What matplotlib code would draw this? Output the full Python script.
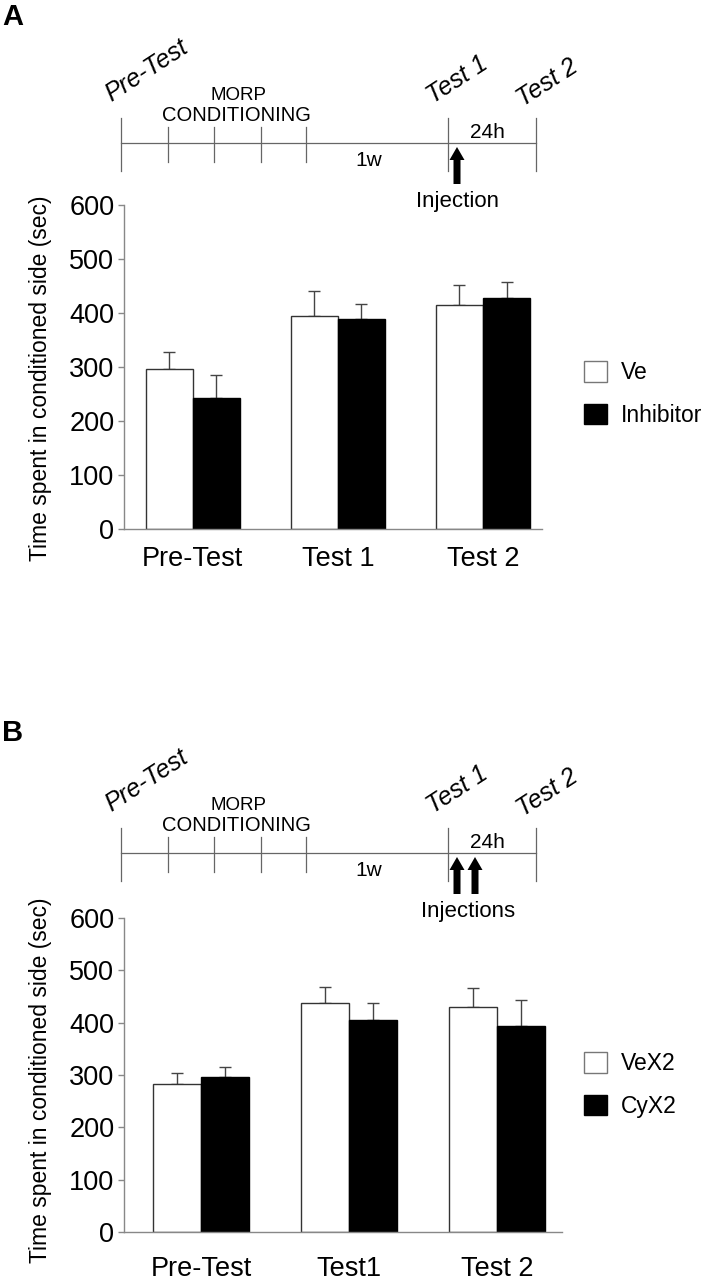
import numpy as np
import matplotlib.pyplot as plt
from matplotlib.patches import Patch

plt.rcParams['font.family'] = ['Liberation Sans', 'DejaVu Sans']

groups_a = ["Pre-Test", "Test 1", "Test 2"]
groups_b = ["Pre-Test", "Test1", "Test 2"]

# panel A
ve = [296, 395, 414]
ve_err = [32, 46, 37]
inh = [243, 389, 427]
inh_err = [42, 28, 30]
# panel B
vex2 = [282, 438, 430]
vex2_err = [22, 30, 37]
cyx2 = [296, 406, 394]
cyx2_err = [19, 32, 50]

yticks = [0, 100, 200, 300, 400, 500, 600]

W, H = 702, 1280
fig = plt.figure(figsize=(W / 100, H / 100), dpi=100)

def px_axes(l, t, r, b):
    return fig.add_axes([l / W, 1 - b / H, (r - l) / W, (b - t) / H])

# overlay in pixel units for the timeline sketches
ov = fig.add_axes([0, 0, 1, 1])
ov.set_xlim(0, W)
ov.set_ylim(H, 0)
ov.axis("off")

GRAY = "#666666"

def timeline(dy, n_arrows, inj_text):
    ov.plot([121, 536], [143 + dy, 143 + dy], color=GRAY, lw=0.9)
    for x in [121, 448, 536]:
        ov.plot([x, x], [118 + dy, 171 + dy], color=GRAY, lw=0.9)
    for x in [168, 214, 261, 306]:
        ov.plot([x, x], [127 + dy, 162 + dy], color=GRAY, lw=0.9)
    ov.text(238, 100 + dy, "MORP", ha="center", va="baseline", fontsize=13.5)
    ov.text(236, 121 + dy, "CONDITIONING", ha="center", va="baseline", fontsize=14.5)
    ov.text(369, 160 + dy, "1w", ha="center", va="center", fontsize=15)
    ov.text(487, 132 + dy, "24h", ha="center", va="center", fontsize=15)
    for x0, y0, s in [(111, 102, "Pre-Test"), (433, 104, "Test 1"), (523, 107, "Test 2")]:
        ov.text(x0, y0 + dy, s, rotation=33, rotation_mode="anchor", ha="left",
                va="baseline", fontsize=18, style="italic")
    xs = [457] if n_arrows == 1 else [457, 475]
    for x in xs:
        ov.arrow(x, 184 + dy, 0, -37, width=7, head_width=15, head_length=13,
                 length_includes_head=True, color="black", lw=0)
    ov.text(457 if n_arrows == 1 else 468, 201 + dy, inj_text, ha="center",
            va="center", fontsize=16)

def bars(ax, labels, a, a_err, b, b_err, xlim, names, leg_xy, pad):
    x = np.arange(len(labels))
    w = 0.325
    ax.bar(x - w / 2, a, w, color="white", edgecolor="#333333", lw=1, zorder=2)
    ax.bar(x + w / 2, b, w, color="black", edgecolor="black", lw=1, zorder=2)
    ax.errorbar(x - w / 2, a, yerr=[np.zeros(3), a_err], fmt="none", ecolor="#444444",
                elinewidth=1, capsize=4, capthick=1, zorder=1)
    ax.errorbar(x + w / 2, b, yerr=[np.zeros(3), b_err], fmt="none", ecolor="#444444",
                elinewidth=1, capsize=4, capthick=1, zorder=1)
    ax.set_xlim(*xlim)
    ax.set_ylim(0, 600)
    ax.set_yticks(yticks)
    ax.set_xticks(x)
    ax.set_xticklabels(labels)
    for s in ["top", "right"]:
        ax.spines[s].set_visible(False)
    for s in ["left", "bottom"]:
        ax.spines[s].set_color("#888888")
        ax.spines[s].set_linewidth(1)
    ax.tick_params(axis="y", length=4, width=1, color="#888888", labelsize=19.5, pad=3)
    ax.tick_params(axis="x", length=0, labelsize=19.5, pad=pad)
    ax.set_facecolor("none")
    handles = [Patch(facecolor="white", edgecolor="#777777", lw=1),
               Patch(facecolor="black", edgecolor="black", lw=1)]
    ax.legend(handles, names, loc="upper left",
              bbox_to_anchor=(leg_xy[0] / W, 1 - leg_xy[1] / H),
              bbox_transform=fig.transFigure, frameon=False, fontsize=16.5,
              handlelength=1.0, handleheight=1.0, handletextpad=0.6,
              labelspacing=0.85, borderpad=0, borderaxespad=0)

# panel A
fig.text(2 / W, 1 - 17 / H, "A", fontsize=21, fontweight="bold", va="center", ha="left")
timeline(0, 1, "Injection")
axA = px_axes(124, 205, 542, 529)
bars(axA, groups_a, ve, ve_err, inh, inh_err, (-0.474, 2.407), ["Ve", "Inhibitor"], (584, 361), 12)
fig.text(41 / W, 1 - 378 / H, "Time spent in conditioned side (sec)", rotation=90,
         ha="center", va="center", fontsize=16.5)

# panel B
fig.text(2 / W, 1 - 733 / H, "B", fontsize=21, fontweight="bold", va="center", ha="left")
timeline(710, 2, "Injections")
axB = px_axes(124, 918, 562, 1232)
bars(axB, groups_b, vex2, vex2_err, cyx2, cyx2_err, (-0.52, 2.44), ["VeX2", "CyX2"], (584, 1052), 17)
fig.text(41 / W, 1 - 1080 / H, "Time spent in conditioned side (sec)", rotation=90,
         ha="center", va="center", fontsize=16.5)

fig.savefig("out.png", dpi=100, facecolor="white")
